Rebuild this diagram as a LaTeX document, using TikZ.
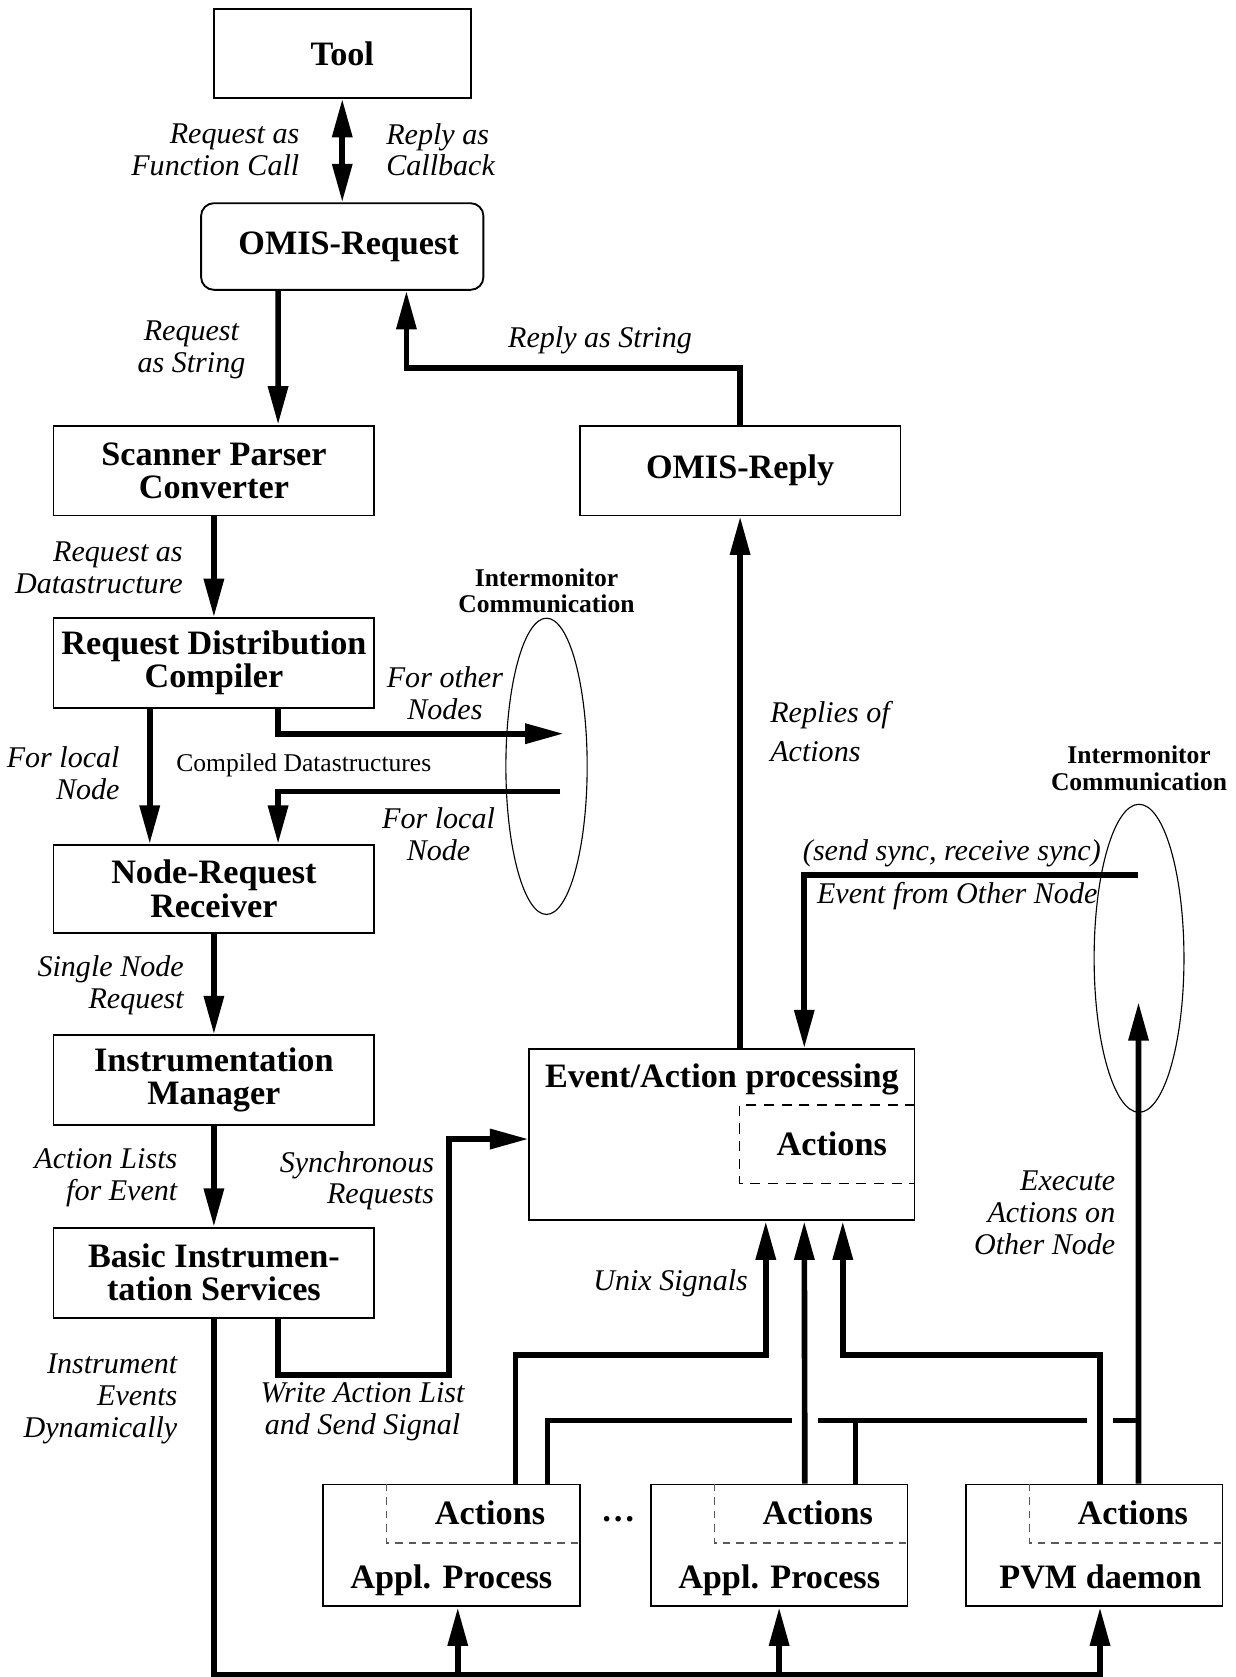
\documentclass[tikz,border=0pt]{standalone}
\usepackage{fontspec}
\setmainfont{Liberation Serif}
\usetikzlibrary{arrows.meta,shapes.geometric}

\begin{document}
\begin{tikzpicture}[x=1cm, y=-1cm,
    box/.style={draw, line width=0.5pt, minimum width=3cm, minimum height=0.84cm,
      align=center, inner sep=1pt, font=\fontsize{9.1pt}{8.8pt}\selectfont\bfseries},
    boxtext/.style={inner sep=1pt, font=\fontsize{9.1pt}{8.8pt}\selectfont\bfseries},
    lbl/.style={inner sep=1pt, font=\fontsize{8pt}{8.5pt}\selectfont\itshape},
    imclabel/.style={inner sep=1pt, align=center, font=\fontsize{6.8pt}{7.1pt}\selectfont\bfseries},
    imc/.style={draw, ellipse, line width=0.3pt, inner sep=0pt},
    wire/.style={line width=1.5pt},
    flow/.style={wire, -{Triangle[length=3.6mm,width=1.8mm]}},
    flowboth/.style={wire, {Triangle[length=3.6mm,width=1.8mm]}-{Triangle[length=3.6mm,width=1.8mm]}},
    dashline/.style={line width=0.45pt, dash pattern=on 2.7pt off 2pt},
    dashgray/.style={line width=0.45pt, black!65, dash pattern=on 2pt off 1.6pt},
  ]
    \useasboundingbox (0,0) rectangle (11.55,15.68);

    % 1. left column
    \node[box, minimum width=2.4cm, minimum height=0.83cm] (tool) at (3.20,0.50) {Tool};
    \node[box, rounded corners=1.2mm, minimum width=2.64cm, minimum height=0.81cm] (req) at (3.20,2.305) {\hspace*{1.2mm}OMIS-Request};
    \node[box] (scan) at (2.00,4.40) {Scanner Parser\\Converter};
    \node[box] (rdc) at (2.00,6.20) {Request Distribution\\Compiler};
    \node[box, minimum height=0.82cm] (nrr) at (2.00,8.31) {Node-Request\\Receiver};
    \node[box] (im) at (2.00,10.10) {Instrumentation\\Manager};
    \node[box] (bis) at (2.00,11.90) {Basic Instrumen-\\tation Services};

    % 2. reply and event/action processing
    \node[box] (rep) at (6.92,4.40) {OMIS-Reply};
    \node[box, minimum width=3.6cm, minimum height=1.6cm] (eap) at (6.75,10.61) {};
    \node[boxtext, anchor=base] (eaptitle) at ([yshift=-3.7mm]eap.north) {Event/Action processing};
    \node[boxtext, minimum width=1.63cm, minimum height=0.72cm, anchor=north east] (eapact) at ([yshift=-5.3mm]eap.north east) {\hspace*{0.8mm}Actions};
    \draw[dashline] (eapact.north east) -- (eapact.north west) -- (eapact.south west) -- (eapact.south east);

    % 3. processes
    \foreach \n/\x/\d/\t in {ap1/4.22/0/Appl. Process, ap2/7.285/0/Appl. Process, pvm/10.23/0.6/PVM daemon} {
      \node[box, minimum width=2.4cm, minimum height=1.14cm] (\n) at (\x,14.45) {};
      \node[boxtext, minimum width=1.8cm, minimum height=0.54cm, anchor=north east] (\n-act) at (\n.north east) {\hspace*{1.2mm}Actions};
      \node[boxtext, anchor=base] (\n-txt) at ([xshift=\d mm, yshift=1.8mm]\n.south) {\t};
      \draw[dashgray] (\n-act.north west) |- (\n-act.south east);
    }
    \node[boxtext] (dots) at (5.78,14.20) {\dots};

    % 4. intermonitor communication
    \node[imc, minimum width=0.76cm, minimum height=2.77cm] (imc1) at (5.11,7.165) {};
    \node[imclabel, anchor=south] (imc1lbl) at (imc1.north) {Intermonitor\\Communication};
    \node[imc, minimum width=0.84cm, minimum height=2.88cm] (imc2) at (10.65,8.96) {};
    \node[imclabel, anchor=south] (imc2lbl) at ([yshift=0.8mm]imc2.north) {Intermonitor\\Communication};
    \coordinate (imc1in) at (5.27,6.86);
    \coordinate (imc1out) at (5.24,7.40);
    \coordinate (imc2in) at (10.645,9.37);
    \coordinate (imc2out) at (10.64,8.18);
    \coordinate (bus) at (2.00,15.655);
    \coordinate (sbus) at (5.12,13.28);

    % 5. connectors
    \draw[flowboth] (tool.south) -- (req.north);
    \draw[flow] ([xshift=-6mm]req.south) -- ([xshift=6mm]scan.north);
    \draw[flow] (rep.north) -- ++(0,-0.53) -| ([xshift=6mm]req.south);
    \draw[flow] (scan.south) -- (rdc.north);
    \draw[flow] ([xshift=6mm]rdc.south) |- (imc1in);
    \draw[flow] (imc1out) -| ([xshift=6mm]nrr.north);
    \draw[flow] ([xshift=-6mm]rdc.south) -- ([xshift=-6mm]nrr.north);
    \draw[flow] (nrr.south) -- (im.north);
    \draw[flow] (im.south) -- (bis.north);
    \draw[flow] ([xshift=6mm]bis.south) -- ++(0,0.53) -- ++(1.60,0) |- ([yshift=-0.4mm]eap.west);
    \draw[flow] (eap.north -| rep.south) -- (rep.south);
    \draw[flow] (imc2out) -| ([xshift=7.7mm]eap.north);
    \draw[flow] ([xshift=6mm]ap1.north) -- ++(0,-1.20) -| ([xshift=4.1mm]eap.south);
    \draw[flow] ([xshift=2.4mm]ap2.north) -- ([xshift=7.7mm]eap.south);
    \draw[flow] ([xshift=0.55mm]pvm.north) -- ++(0,-1.20) -| ([xshift=11.3mm]eap.south);
    \draw[flow] ([xshift=4.15mm]pvm.north) -- (imc2in);

    % bus below the processes
    \draw[flow] (bis.south) -- (bus) -| ([xshift=0.55mm]pvm.south);
    \draw[flow] ([xshift=0.6mm]ap1.south |- bus) -- ([xshift=0.6mm]ap1.south);
    \draw[flow] (ap2.south |- bus) -- (ap2.south);

    % bus above the processes, broken where lines cross
    \draw[wire] ([xshift=9mm]ap1.north) |- ([xshift=1.2mm]ap2.north |- sbus);
    \draw[wire] ([xshift=3.6mm]ap2.north |- sbus) -- ([xshift=-0.7mm]pvm.north |- sbus);
    \draw[wire] ([xshift=1.8mm]pvm.north |- sbus) -- ([xshift=4.15mm]pvm.north |- sbus);
    \draw[wire] ([xshift=7.15mm]ap2.north) -- ([xshift=7.15mm]ap2.north |- sbus);

    % 6. labels
    \node[lbl, align=right, anchor=east] (callreq) at (2.84,1.40) {Request as\\Function Call};
    \node[lbl, align=left, anchor=west] (cbrep) at (3.57,1.40) {Reply as\\Callback};
    \node[lbl, align=center] (strreq) at (1.79,3.27) {Request\\as String};
    \node[lbl] (strrep) at (5.61,3.18) {Reply as String};
    \node[lbl, align=right, anchor=east] (dsreq) at (1.75,5.31) {Request as\\Datastructure};
    \node[lbl, align=center] (othernodes) at (4.16,6.48) {For other\\Nodes};
    \node[lbl, align=right, anchor=east] (localleft) at (1.16,7.23) {For local\\Node};
    \node[inner sep=1pt, font=\fontsize{6.8pt}{7pt}\selectfont] (compiled) at (2.84,7.16) {Compiled Datastructures};
    \node[lbl, align=center] (localright) at (4.10,7.80) {For local\\Node};
    \node[lbl, align=right, anchor=east] (single) at (1.76,9.21) {Single Node\\Request};
    \node[lbl, align=right, anchor=east] (actlists) at (1.70,11.01) {Action Lists\\for Event};
    \node[lbl, align=right, anchor=east] (syncreq) at (4.10,11.04) {Synchronous\\Requests};
    \node[lbl, align=right, anchor=east] (instr) at (1.70,13.08) {Instrument\\Events\\Dynamically};
    \node[lbl, align=center] (writeal) at (3.39,13.20) {Write Action List\\and Send Signal};
    \node[lbl, align=left, anchor=west] (replies) at (7.16,6.84) {Replies of\\[1.7pt]Actions};
    \node[lbl] (sync) at (8.90,7.98) {(send sync, receive sync)};
    \node[lbl] (evother) at (8.95,8.38) {Event from Other Node};
    \node[lbl] (unix) at (6.27,12.00) {Unix Signals};
    \node[lbl, align=right, anchor=east] (execother) at (10.47,11.34) {Execute\\Actions on\\Other Node};
\end{tikzpicture}
\end{document}
